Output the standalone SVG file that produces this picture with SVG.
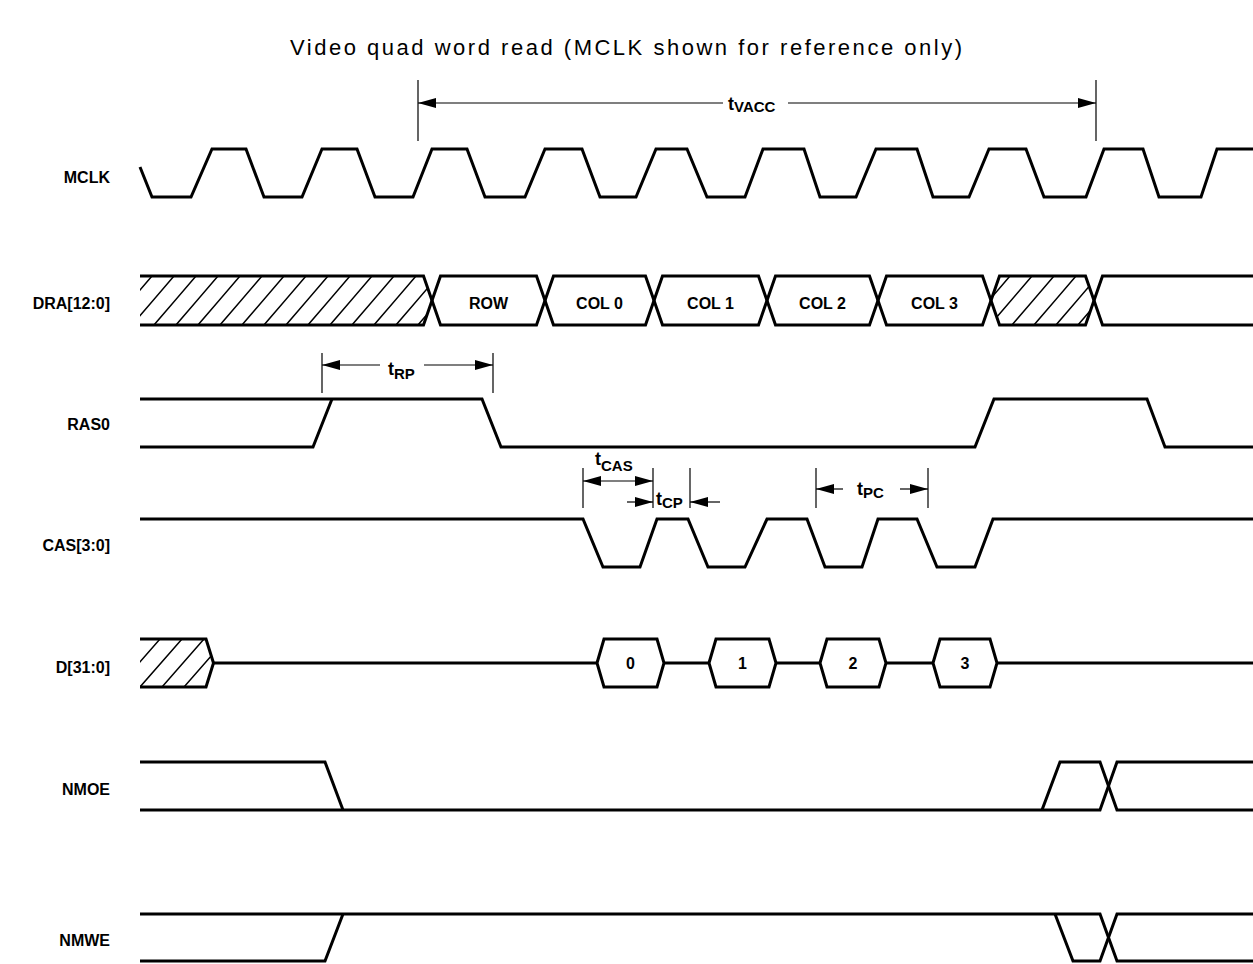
<svg xmlns="http://www.w3.org/2000/svg" width="1253" height="964" viewBox="0 0 1253 964">
<style>
.w{fill:none;stroke:#000;stroke-width:3;stroke-linejoin:miter;stroke-linecap:butt}
.h{stroke:#000;stroke-width:1.5}
.d{fill:none;stroke:#000;stroke-width:1.2}
.lbl{font-family:"Liberation Sans",Arial,sans-serif;font-weight:bold;font-size:16px;text-anchor:end}
.cell{font-family:"Liberation Sans",Arial,sans-serif;font-weight:bold;font-size:16px;text-anchor:middle}
.tm{font-family:"Liberation Sans",Arial,sans-serif;font-weight:bold;font-size:18px}
.sub{font-size:15px}
.title{font-family:"Liberation Sans",Arial,sans-serif;font-size:22px}
</style>
<defs>
<marker id="ah" viewBox="0 0 18 10" refX="18" refY="5" markerWidth="18" markerHeight="10" markerUnits="userSpaceOnUse" orient="auto-start-reverse"><path d="M0,0 L18,5 L0,10 Z" fill="#000"/></marker>
<pattern id="hatch" patternUnits="userSpaceOnUse" width="22" height="49" x="0" y="276">
<path d="M-22,49 L20,0 M0,49 L42,0" class="h"/>
</pattern>
<clipPath id="c1"><path d="M140,277 L423,277 L431,300.5 L423,324 L140,324 Z"/></clipPath>
<clipPath id="c2"><path d="M991,300.5 L999.5,277 L1085.5,277 L1094,300.5 L1085.5,324 L999.5,324 Z"/></clipPath>
<clipPath id="c3"><path d="M140,640 L206,640 L213,663 L206,686 L140,686 Z"/></clipPath>
</defs>

<text class="title" x="290" y="55" textLength="672" lengthAdjust="spacing">Video quad word read (MCLK shown for reference only)</text>

<g id="labels">
<text class="lbl" x="110" y="183">MCLK</text>
<text class="lbl" x="110" y="309">DRA[12:0]</text>
<text class="lbl" x="110" y="430">RAS0</text>
<text class="lbl" x="110" y="551">CAS[3:0]</text>
<text class="lbl" x="110" y="673">D[31:0]</text>
<text class="lbl" x="110" y="795">NMOE</text>
<text class="lbl" x="110" y="946">NMWE</text>
</g>

<g id="mclk">
<path class="w" d="M140,167 L152,197 L191,197 L212,149 L246,149 L264,197 L302,197 L322,149 L357,149 L375,197 L413,197 L432,149 L467,149 L485,197 L525,197 L545,149 L582,149 L600,197 L636,197 L656,149 L687,149 L707,197 L745,197 L763,149 L804,149 L820,197 L856,197 L876,149 L917,149 L933,197 L969,197 L989,149 L1026,149 L1044,197 L1086,197 L1104,149 L1143,149 L1159,197 L1201,197 L1217,149 L1253,149"/>
</g>

<g id="dra">
<g clip-path="url(#c1)">
<rect x="140" y="276" width="300" height="49" fill="url(#hatch)"/>
</g>
<g clip-path="url(#c2)">
<rect x="990" y="276" width="110" height="49" fill="url(#hatch)"/>
</g>
<path class="w" d="M140,276 L423.5,276 L432,300.5 L423.5,325 L140,325"/>
<path class="w" d="M432,300.5 L440.5,276 L536.5,276 L545,300.5 L536.5,325 L440.5,325 Z"/>
<path class="w" d="M545,300.5 L553.5,276 L645.5,276 L654,300.5 L645.5,325 L553.5,325 Z"/>
<path class="w" d="M654,300.5 L662.5,276 L758.5,276 L767,300.5 L758.5,325 L662.5,325 Z"/>
<path class="w" d="M767,300.5 L775.5,276 L869.5,276 L878,300.5 L869.5,325 L775.5,325 Z"/>
<path class="w" d="M878,300.5 L886.5,276 L982.5,276 L991,300.5 L982.5,325 L886.5,325 Z"/>
<path class="w" d="M991,300.5 L999.5,276 L1085.5,276 L1094,300.5 L1085.5,325 L999.5,325 Z"/>
<path class="w" d="M1253,276 L1102.5,276 L1094,300.5 L1102.5,325 L1253,325"/>
<text class="cell" x="488.5" y="309">ROW</text>
<text class="cell" x="599.5" y="309">COL 0</text>
<text class="cell" x="710.5" y="309">COL 1</text>
<text class="cell" x="822.5" y="309">COL 2</text>
<text class="cell" x="934.5" y="309">COL 3</text>
</g>

<g id="ras0">
<path class="w" d="M140,399 L482,399 L501,447 L975,447 L994,399 L1147,399 L1165,447 L1253,447"/>
<path class="w" d="M140,447 L313,447 L332,399"/>
</g>

<g id="cas">
<path class="w" d="M140,519 L583,519 L603,567 L640,567 L657,519 L688,519 L708,567 L745,567 L767,519 L807,519 L825,567 L862,567 L878,519 L917,519 L937,567 L975,567 L993,519 L1253,519"/>
</g>

<g id="data">
<g clip-path="url(#c3)">
<path class="h" d="M96,687 L138,639 M118,687 L160,639 M140,687 L182,639 M162,687 L204,639 M184,687 L226,639 M206,687 L248,639"/>
</g>
<path class="w" d="M140,639 L206,639 L213.5,663 L206,687 L140,687"/>
<path class="w" d="M213.5,663 L597,663"/>
<path class="w" d="M597,663 L604,639 L657,639 L664,663 L657,687 L604,687 Z"/>
<path class="w" d="M664,663 L709,663"/>
<path class="w" d="M709,663 L716,639 L769,639 L776,663 L769,687 L716,687 Z"/>
<path class="w" d="M776,663 L820,663"/>
<path class="w" d="M820,663 L827,639 L879,639 L886,663 L879,687 L827,687 Z"/>
<path class="w" d="M886,663 L933,663"/>
<path class="w" d="M933,663 L940,639 L990,639 L997,663 L990,687 L940,687 Z"/>
<path class="w" d="M997,663 L1253,663"/>
<text class="cell" x="630.5" y="669">0</text>
<text class="cell" x="742.5" y="669">1</text>
<text class="cell" x="853" y="669">2</text>
<text class="cell" x="965" y="669">3</text>
</g>

<g id="nmoe">
<path class="w" d="M140,762 L325,762 L343,810"/>
<path class="w" d="M140,810 L1100,810 L1117,762 L1253,762"/>
<path class="w" d="M1042,810 L1060,762 L1100,762 L1117,810 L1253,810"/>
</g>

<g id="nmwe">
<path class="w" d="M140,961 L325,961 L343,914"/>
<path class="w" d="M140,914 L1100,914 L1117,961 L1253,961"/>
<path class="w" d="M1055,914 L1073,961 L1100,961 L1117,914 L1253,914"/>
</g>

<g id="connectors">
<path class="d" d="M418,80 L418,141 M1096,80 L1096,141"/>
<path class="d" d="M723,103 L418,103" marker-end="url(#ah)"/>
<path class="d" d="M788,103 L1096,103" marker-end="url(#ah)"/>
<path class="d" d="M322,353 L322,393 M493,353 L493,393"/>
<path class="d" d="M380,365 L322,365" marker-end="url(#ah)"/>
<path class="d" d="M424,365 L493,365" marker-end="url(#ah)"/>
<path class="d" d="M583,468 L583,508 M653,468 L653,508"/>
<path class="d" d="M583,481 L653,481" marker-start="url(#ah)" marker-end="url(#ah)"/>
<path class="d" d="M690,468 L690,508"/>
<path class="d" d="M627,502 L653,502" marker-end="url(#ah)"/>
<path class="d" d="M720,502 L690,502" marker-end="url(#ah)"/>
<path class="d" d="M816,468 L816,508 M928,468 L928,508"/>
<path class="d" d="M843,489 L816,489" marker-end="url(#ah)"/>
<path class="d" d="M900,489 L928,489" marker-end="url(#ah)"/>
</g>

<g id="timing-labels">
<text class="tm" x="728" y="110">t<tspan class="sub" dy="2">VACC</tspan></text>
<text class="tm" x="388" y="375">t<tspan class="sub" dy="4">RP</tspan></text>
<text class="tm" x="595" y="465">t<tspan class="sub" dy="6">CAS</tspan></text>
<text class="tm" x="656" y="505">t<tspan class="sub" dy="3">CP</tspan></text>
<text class="tm" x="857" y="495">t<tspan class="sub" dy="3">PC</tspan></text>
</g>
</svg>
